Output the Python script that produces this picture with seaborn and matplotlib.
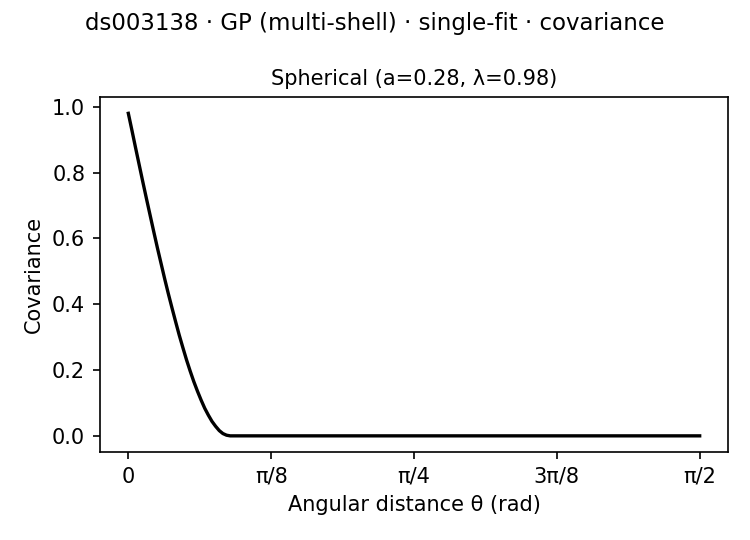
import numpy as np
import pandas as pd
import matplotlib
matplotlib.use("Agg")
import matplotlib.pyplot as plt
import seaborn as sns

# valores (covariância esférica, a=0.28, lambda=0.98)
theta = [0.00, 0.01, 0.02, 0.03, 0.04, 0.05, 0.06, 0.07, 0.08, 0.09,
         0.10, 0.11, 0.12, 0.13, 0.14, 0.15, 0.16, 0.17, 0.18, 0.19,
         0.20, 0.21, 0.22, 0.23, 0.24, 0.25, 0.26, 0.27, 0.28, 0.40,
         0.60, 0.80, 1.00, 1.20, 1.40, 1.5708]
cov = [0.980, 0.928, 0.875, 0.823, 0.771, 0.720, 0.670, 0.620, 0.571, 0.524,
       0.477, 0.432, 0.389, 0.347, 0.306, 0.268, 0.231, 0.197, 0.165, 0.136,
       0.109, 0.084, 0.063, 0.044, 0.029, 0.016, 0.007, 0.002, 0.0, 0.0,
       0.0, 0.0, 0.0, 0.0, 0.0, 0.0]

tick_pos = [0, np.pi / 8, np.pi / 4, 3 * np.pi / 8, np.pi / 2]
tick_lab = ["0", "π/8", "π/4", "3π/8", "π/2"]

df = pd.DataFrame({"theta": theta, "cov": cov})

plt.rcParams["font.size"] = 10
fig, ax = plt.subplots(figsize=(5.0, 3.6), dpi=150)
sns.lineplot(data=df, x="theta", y="cov", color="black", linewidth=1.6, ax=ax)

ax.set_xticks(tick_pos)
ax.set_xticklabels(tick_lab)
ax.set_xlabel("Angular distance θ (rad)")
ax.set_ylabel("Covariance")
ax.set_title("Spherical (a=0.28, λ=0.98)", fontsize=10)
fig.suptitle("ds003138 · GP (multi-shell) · single-fit · covariance", fontsize=11, y=0.977)

fig.subplots_adjust(left=0.133, right=0.971, top=0.820, bottom=0.163)
fig.savefig("out.png", dpi=150)
